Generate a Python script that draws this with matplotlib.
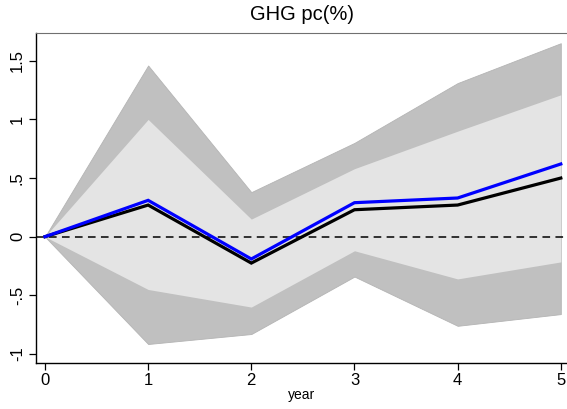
"""
impulse response of GHG per capita with 68% / 95% bands
"""

import numpy as np
import matplotlib.pyplot as plt

plt.rcParams["font.family"] = ["Liberation Sans", "DejaVu Sans"]

year = [0, 1, 2, 3, 4, 5]

# 95% band
outer_hi = [0.0, 1.46, 0.38, 0.80, 1.31, 1.65]
outer_lo = [0.0, -0.915, -0.83, -0.34, -0.76, -0.66]
# 68% band
inner_hi = [0.0, 1.00, 0.15, 0.58, 0.90, 1.21]
inner_lo = [0.0, -0.45, -0.60, -0.12, -0.36, -0.215]

irf = [0.0, 0.27, -0.225, 0.23, 0.27, 0.50]
irf_alt = [0.0, 0.31, -0.19, 0.29, 0.33, 0.62]

yticks = [-1, -0.5, 0, 0.5, 1, 1.5]
ytick_labels = ["-1", "-.5", "0", ".5", "1", "1.5"]

fig = plt.figure(figsize=(5.67, 4.09), dpi=100)
ax = fig.add_axes([36 / 567, 1 - 363 / 409, 1 - 36 / 567, (363 - 33) / 409])

ax.fill_between(year, outer_lo, outer_hi, color="#c0c0c0", lw=0.6, edgecolor="#b4b4b4")
ax.fill_between(year, inner_lo, inner_hi, color="#e4e4e4", lw=0)
ax.axhline(0, color="black", ls=(0, (5, 3.5)), lw=1.1)
ax.plot(year, irf, color="black", lw=2.3, solid_joinstyle="miter")
ax.plot(year, irf_alt, color="#0000ff", lw=2.3, solid_joinstyle="miter")

ax.set_xlim(-0.087, 5.06)
ax.set_ylim(-1.077, 1.737)
ax.set_xticks(year)
ax.set_yticks(yticks)
ax.set_yticklabels(ytick_labels, rotation=90, va="center")
ax.tick_params(direction="out", length=5, width=0.9, labelsize=12, colors="black")
ax.tick_params(axis="y", pad=3)
ax.tick_params(axis="x", pad=2)

ax.spines["right"].set_visible(False)
ax.spines["top"].set_color("#707070")
ax.spines["left"].set_linewidth(1.0)
ax.spines["bottom"].set_linewidth(1.0)

ax.set_xlabel("year", fontsize=10, labelpad=0)
fig.text(0.5 + 18 / 567, 1 - 15 / 409, "GHG pc(%)", ha="center", va="center", fontsize=14.5)

plt.savefig("out.png", dpi=100)
